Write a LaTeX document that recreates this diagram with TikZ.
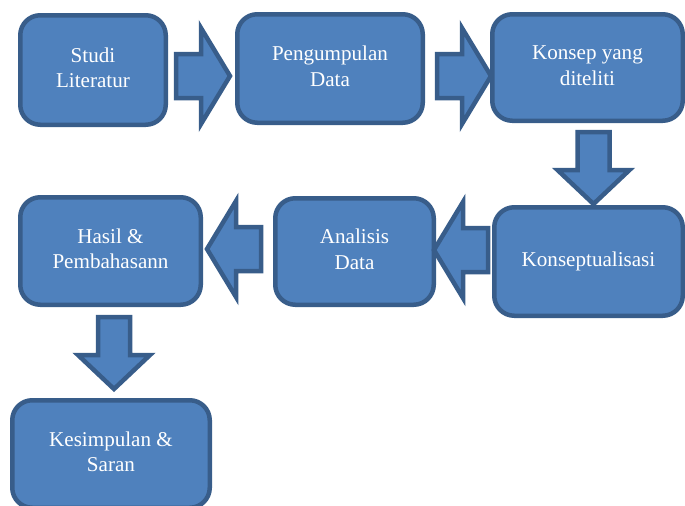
\documentclass[tikz,border=0pt]{standalone}
\usepackage{fontspec}
\setmainfont{Liberation Serif}
\usepackage{tikz}
\usetikzlibrary{calc}
\newlength{\px}
\setlength{\px}{0.025cm}
\definecolor{boxfill}{HTML}{4F81BD}
\definecolor{boxline}{HTML}{385D8A}

\begin{document}
\begin{tikzpicture}[x=\px, y=-\px, line width=4.5\px, line join=miter,
     stage/.style={draw=boxline, fill=boxfill, rounded corners=20\px, text=white,
       inner sep=0pt, font=\fontsize{15}{18}\selectfont},
     blockarrow/.style={draw=boxline, fill=boxfill},
     pics/rarrow/.style={code={\draw[blockarrow] (2,-22) -- (27,-22) -- (27,-48) -- (56,0) -- (27,48) -- (27,22) -- (2,22) -- cycle;}},
     pics/darrow/.style={code={\draw[blockarrow] (-16,2) -- (-16,40) -- (-36,40) -- (0,74) -- (36,40) -- (16,40) -- (16,2) -- cycle;}}]
    \useasboundingbox (0,0) rectangle (685,506);
    \node[stage, minimum width=145.5\px, minimum height=109.5\px] (studi) at (93, 70) {\begin{tabular}{c} Studi \\ Literatur \end{tabular}};
    \node[stage, minimum width=185.5\px, minimum height=108.5\px] (data) at (330, 68.5) {\begin{tabular}{c} Pengumpulan \\ Data \end{tabular}};
    \node[stage, minimum width=190.5\px, minimum height=106.5\px] (konsep) at (587.5, 67.5) {\begin{tabular}{c} Konsep yang \\ diteliti \end{tabular}};
    \node[stage, minimum width=188.5\px, minimum height=108.5\px] (konseptual) at (588.5, 261.5) {Konseptualisasi};
    \node[stage, minimum width=158.5\px, minimum height=106.5\px] (analisis) at (354.5, 251.5) {\begin{tabular}{c} Analisis \\ Data \end{tabular}};
    \node[stage, minimum width=180.5\px, minimum height=107.5\px] (hasil) at (110.5, 251) {\begin{tabular}{c} Hasil \& \\ Pembahasann \end{tabular}};
    \node[stage, minimum width=197.5\px, minimum height=107.5\px] (simpul) at (111, 454) {\begin{tabular}{c} Kesimpulan \& \\ Saran \end{tabular}};
    \pic at ($(studi.east)+(6,6)$) {rarrow};
    \pic at ($(data.east)+(10,7.5)$) {rarrow};
    \pic at ($(konsep.south)+(6,7)$) {darrow};
    \pic[rotate=180] at ($(konseptual.west)+(-2,-11.5)$) {rarrow};
    \pic[rotate=180] at ($(analisis.west)+(-10,-2.5)$) {rarrow};
    \pic at ($(hasil.south)+(3.5,8)$) {darrow};
    % \pic at ($(simpul.east)+(6,0)$) {rarrow};
\end{tikzpicture}
\end{document}
